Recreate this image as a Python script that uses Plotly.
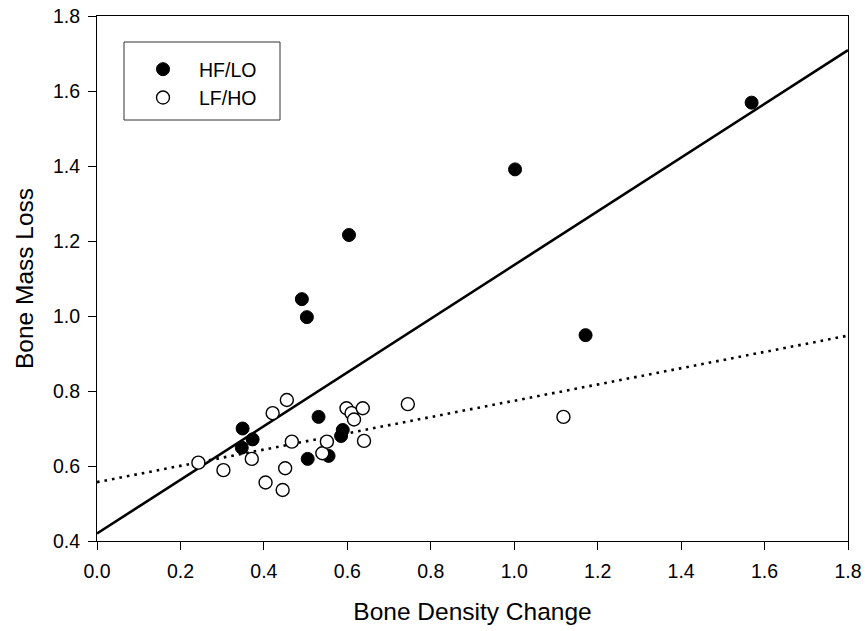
import plotly.graph_objects as go

# HF/LO group
hf_x = [0.349, 0.373, 0.347, 0.491, 0.503, 0.505, 0.531, 0.555, 0.585, 0.589, 0.604, 1.002, 1.171, 1.569]
hf_y = [0.700, 0.671, 0.649, 1.045, 0.997, 0.619, 0.731, 0.627, 0.680, 0.696, 1.216, 1.391, 0.949, 1.569]

# LF/HO group
lf_x = [0.243, 0.303, 0.371, 0.404, 0.421, 0.445, 0.451, 0.455, 0.467, 0.540, 0.551,
        0.598, 0.610, 0.616, 0.637, 0.640, 0.745, 1.118]
lf_y = [0.609, 0.589, 0.619, 0.556, 0.741, 0.536, 0.594, 0.776, 0.665, 0.634, 0.665,
        0.754, 0.741, 0.724, 0.754, 0.667, 0.765, 0.731]

# Regression lines: [intercept, slope]
hf_fit = [0.420, 0.716]
lf_fit = [0.557, 0.217]
fit_range = [0.0, 1.8]

x_ticks = [0.0, 0.2, 0.4, 0.6, 0.8, 1.0, 1.2, 1.4, 1.6, 1.8]
y_ticks = [0.4, 0.6, 0.8, 1.0, 1.2, 1.4, 1.6, 1.8]

FONT = "Liberation Sans, Arial, sans-serif"

fig = go.Figure()

fig.add_trace(go.Scatter(
    x=fit_range, y=[hf_fit[0] + hf_fit[1] * v for v in fit_range],
    mode="lines", line=dict(color="black", width=2.6), showlegend=False, hoverinfo="skip"))
fig.add_trace(go.Scatter(
    x=fit_range, y=[lf_fit[0] + lf_fit[1] * v for v in fit_range],
    mode="lines", line=dict(color="black", width=2.6, dash="2.6px,5px"), showlegend=False, hoverinfo="skip"))

fig.add_trace(go.Scatter(
    x=hf_x, y=hf_y, mode="markers", name="HF/LO",
    marker=dict(symbol="circle", size=13, color="black", line=dict(color="black", width=1))))
fig.add_trace(go.Scatter(
    x=lf_x, y=lf_y, mode="markers", name="LF/HO",
    marker=dict(symbol="circle", size=13, color="white", line=dict(color="black", width=1.4))))

axis_common = dict(
    showgrid=False, zeroline=False, showline=True, linecolor="black", linewidth=1,
    mirror=True, ticks="outside", ticklen=8, tickwidth=1, tickcolor="black",
    tickfont=dict(family=FONT, size=19.5, color="black"), automargin=False,
)

fig.update_xaxes(
    range=[0, 1.8], tickvals=x_ticks, ticktext=[f"{v:.1f}" for v in x_ticks],
    ticklabelstandoff=5,
    title=dict(text="Bone Density Change", font=dict(family=FONT, size=24.5, color="black"), standoff=21),
    **axis_common)
fig.update_yaxes(
    range=[0.4, 1.8], tickvals=y_ticks, ticktext=[f"{v:.1f}" for v in y_ticks],
    ticklabelstandoff=4,
    title=dict(text="Bone Mass Loss", font=dict(family=FONT, size=24.5, color="black"), standoff=12),
    **axis_common)

# Legend frame
fig.add_shape(type="rect", xref="paper", yref="paper",
              x0=(124 - 97) / 751, x1=(280 - 97) / 751,
              y0=(541 - 120) / 525, y1=(541 - 42) / 525,
              line=dict(color="#333333", width=1), fillcolor="rgba(0,0,0,0)", layer="above")

fig.update_layout(
    width=865, height=631,
    margin=dict(l=97, r=17, t=16, b=90),
    plot_bgcolor="white", paper_bgcolor="white",
    font=dict(family=FONT, color="black"),
    legend=dict(
        x=(127 - 97) / 751, y=(541 - 50) / 525, xanchor="left", yanchor="top",
        borderwidth=0, bgcolor="rgba(0,0,0,0)",
        font=dict(family=FONT, size=19.5, color="black"),
        itemwidth=62, tracegroupgap=0,
    ),
)

fig.write_html("out.html")
